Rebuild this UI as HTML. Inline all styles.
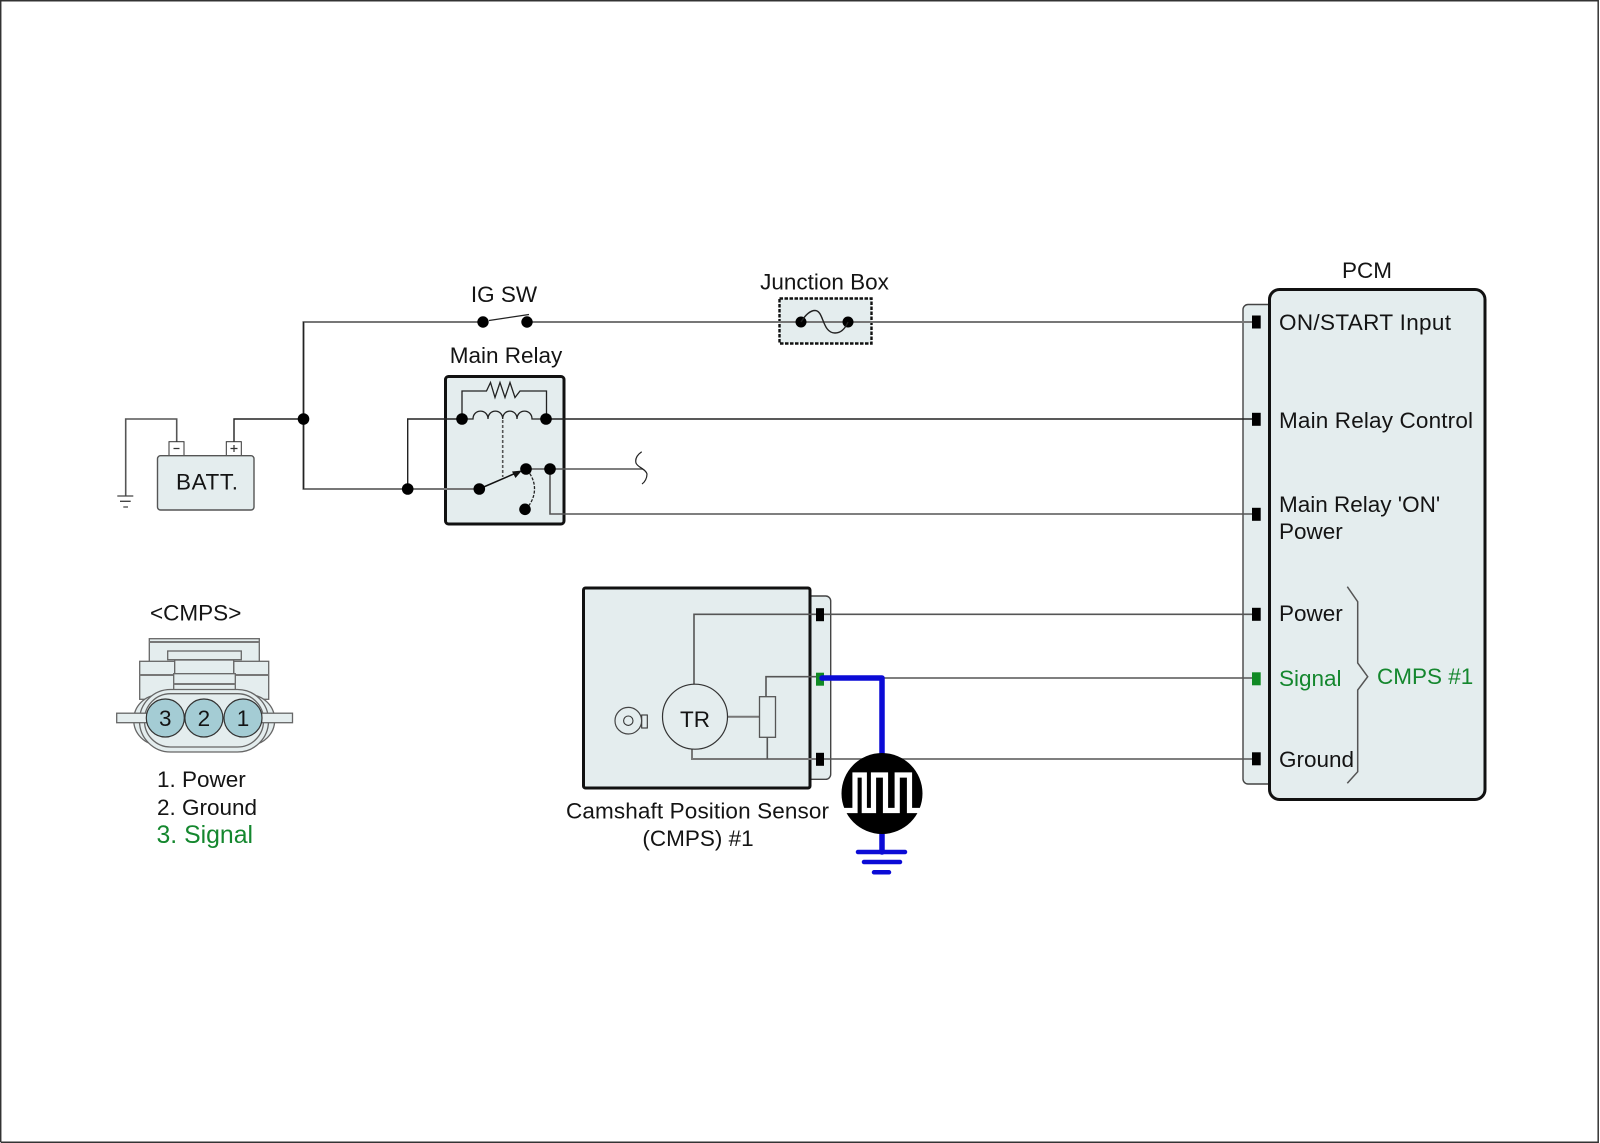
<!DOCTYPE html>
<html>
<head>
<meta charset="utf-8">
<style>
html,body{margin:0;padding:0;background:#fff;}
svg{display:block;}
text{font-family:"Liberation Sans",sans-serif;font-size:22.5px;fill:#141414;}
.g{fill:#14872e;}
.m{text-anchor:middle;}
.w1{fill:none;stroke:#777;stroke-width:2;}
.w2{fill:none;stroke:#222;stroke-width:1.4;}
.w3{fill:none;stroke:#555;stroke-width:1.6;}
.box{fill:#e4edee;stroke:#111;stroke-width:3;}
.tab{fill:#e4edee;stroke:#444;stroke-width:1.4;}
.c{fill:#e4edee;stroke:#666;stroke-width:1.3;}
.cl{fill:none;stroke:#777;stroke-width:2;}
.blue{fill:none;stroke:#0b0bd6;stroke-linecap:round;}
</style>
</head>
<body>
<svg width="1600" height="1143" viewBox="0 0 1600 1143" xmlns="http://www.w3.org/2000/svg">
<rect width="1600" height="1143" fill="#fff"/>
<!-- frame -->
<path d="M.7 1142V.7H1598.2V1142.2H.7" fill="none" stroke="#333" stroke-width="1.5"/>

<!-- PCM -->
<rect class="tab" x="1243" y="304.5" width="40" height="479.5" rx="5"/>
<rect class="box" x="1269.5" y="289.5" width="215.5" height="510" rx="10"/>
<text class="m" x="1367" y="278">PCM</text>
<text x="1279" y="330" textLength="172">ON/START Input</text>
<text x="1279" y="428" textLength="194">Main Relay Control</text>
<text x="1279" y="512">Main Relay 'ON'</text>
<text x="1279" y="539">Power</text>
<text x="1279" y="621">Power</text>
<text class="g" x="1279" y="686">Signal</text>
<text x="1279" y="767">Ground</text>
<text class="g" x="1377" y="684">CMPS #1</text>
<path d="M1347.3 586.7L1357.7 601.7V663L1367.7 676.7L1357.7 690V771.7L1347.3 783.3" fill="none" stroke="#555" stroke-width="1.5"/>

<!-- Relay box (under wires) -->
<rect class="box" x="445.5" y="376.5" width="118.5" height="147.5" rx="3"/>

<!-- wires -->
<path class="w1" d="M483 322H303.5V489H479"/>
<path class="w1" d="M527 322H1256"/>
<path class="w2" d="M303.5 322V489"/>
<path class="w2" d="M234 442V419H303.5"/>
<path class="w3" d="M176.7 442V419H125.7V496"/>
<path class="w2" d="M462 419H407.7V489"/>
<path class="w2" d="M546 419H1256"/>
<path class="w3" d="M526 469H643"/>
<path class="w3" d="M550 469V514H1256"/>
<path d="M641.7 451.7C637 455 635 459 636 463C637 467 646 469 647 474C647 478 645 482 642 484" fill="none" stroke="#222" stroke-width="1.2"/>

<!-- IG SW -->
<text class="m" x="504" y="302">IG SW</text>
<circle cx="483" cy="322" r="5.7"/>
<circle cx="527" cy="322" r="5.7"/>
<path d="M489 320.5L529 314.5" fill="none" stroke="#222" stroke-width="1.3"/>

<!-- Junction box -->
<text class="m" x="824.5" y="289.5">Junction Box</text>
<rect x="779.5" y="298.5" width="92" height="45" fill="#e4edee" stroke="#111" stroke-width="2.4" stroke-dasharray="3.5 1.5"/>
<path class="w1" d="M772 322H880"/>
<circle cx="801" cy="322" r="5.5"/>
<circle cx="848" cy="322" r="5.5"/>
<path d="M801 322C806 314 811 310.5 815 310.5C824 310.5 822 333 835 333C841 333 845 329 848 322" fill="none" stroke="#222" stroke-width="1.4"/>

<!-- Battery -->
<rect x="169" y="441.7" width="15" height="14" fill="#fff" stroke="#333" stroke-width="1"/>
<rect x="226.3" y="441.7" width="15" height="14" fill="#fff" stroke="#333" stroke-width="1"/>
<path d="M173.5 448.5H179.5M230.5 448.5H237.5M234 445V452" stroke="#333" stroke-width="1.2" fill="none"/>
<rect x="157.5" y="455.7" width="96.5" height="54.3" rx="3" fill="#e4edee" stroke="#555" stroke-width="1.4"/>
<text x="176" y="489.5" textLength="62">BATT.</text>
<path d="M117.3 496H133.3M120 501.3H130.7M123.3 507H128" stroke="#444" stroke-width="1.3" fill="none"/>

<!-- Relay -->
<text class="m" x="506" y="363">Main Relay</text>
<path d="M462 419V391H486.5L490.5 382.5L495 397.5L500 382.5L505 397.5L510 382.5L515 397.5L520 391H546.5V419" fill="none" stroke="#222" stroke-width="1.3"/>
<path d="M462 419H473C473 408.5 488 408.5 488 419C488 408.5 502.7 408.5 502.7 419C502.7 408.5 517 408.5 517 419C517 408.5 532 408.5 532 419H546" fill="none" stroke="#222" stroke-width="1.3"/>
<path d="M502.7 420V477" fill="none" stroke="#555" stroke-width="1.6" stroke-dasharray="3 2"/>
<path d="M479 489L516 473" stroke="#111" stroke-width="1.5" fill="none"/>
<path d="M522 470.5L512 471.5L515.5 478Z" fill="#111"/>
<path d="M527 470C536 480 538 495 527 508" fill="none" stroke="#222" stroke-width="1.3" stroke-dasharray="3 1.5"/>
<circle cx="462" cy="419" r="5.8"/>
<circle cx="546" cy="419" r="5.8"/>
<circle cx="479.3" cy="489" r="5.8"/>
<circle cx="526" cy="469" r="5.8"/>
<circle cx="550" cy="469" r="5.8"/>
<circle cx="525" cy="509.3" r="5.8"/>
<circle cx="303.5" cy="419" r="5.8"/>
<circle cx="407.7" cy="489" r="5.8"/>

<!-- CMPS connector -->
<text class="m" x="195.7" y="620.5">&lt;CMPS&gt;</text>
<rect class="c" x="149.3" y="638.7" width="110" height="24"/>
<path class="cl" d="M149.3 642H259.3"/>
<rect class="c" x="139.7" y="661.3" width="35" height="38"/>
<rect class="c" x="233.7" y="661.3" width="35" height="38"/>
<path class="cl" d="M139.7 675H174.7M233.7 675H268.7"/>
<rect class="c" x="174.7" y="660" width="59" height="14"/>
<rect class="c" x="173.7" y="673.7" width="61.6" height="18"/>
<path class="cl" d="M173.7 684H235.3"/>
<rect class="c" x="167.7" y="651" width="73.6" height="8.7"/>
<rect class="c" x="133.7" y="695" width="141" height="50" rx="25"/>
<rect x="139.5" y="689.5" width="129" height="62.5" rx="31" fill="#e4edee" stroke="#666" stroke-width="1.3"/>
<rect x="144.5" y="693.7" width="119" height="53.3" rx="26" fill="#e4edee" stroke="#666" stroke-width="1.3"/>
<rect class="c" x="116.7" y="713.2" width="31" height="9.5"/>
<rect class="c" x="261.5" y="713.2" width="31" height="9.5"/>
<circle cx="165.3" cy="718" r="19" fill="#a4ccd4" stroke="#333" stroke-width="1.2"/>
<circle cx="203.9" cy="718" r="19" fill="#a4ccd4" stroke="#333" stroke-width="1.2"/>
<circle cx="243" cy="718" r="19" fill="#a4ccd4" stroke="#333" stroke-width="1.2"/>
<text class="m" x="165.3" y="726">3</text>
<text class="m" x="203.9" y="726">2</text>
<text class="m" x="243" y="726">1</text>
<text x="157" y="787">1. Power</text>
<text x="157" y="815">2. Ground</text>
<text class="g" x="156.5" y="843" style="font-size:24.8px">3. Signal</text>

<!-- Sensor -->
<rect class="tab" x="800" y="596" width="30.7" height="183.3" rx="5"/>
<rect class="box" x="583.5" y="588" width="226.5" height="200" rx="2"/>
<path class="w3" d="M694 684V614.3H1256"/>
<path class="w3" d="M766 697V676.7H816"/>
<path class="w3" d="M880 678H1256"/>
<path class="w1" d="M692 749V759H816"/>
<path class="w3" d="M824 759H1256"/>
<path class="w3" d="M767.3 737V759"/>
<path class="w1" d="M727 716.7H759.5"/>
<rect x="759.5" y="696.7" width="16" height="40.6" fill="#e4edee" stroke="#555" stroke-width="1.3"/>
<circle cx="695" cy="716.7" r="32.5" fill="#e4edee" stroke="#333" stroke-width="1.2"/>
<text class="m" x="695" y="727">TR</text>
<rect x="641.7" y="715" width="5.6" height="13" fill="#e4edee" stroke="#333" stroke-width="1.1"/>
<circle cx="628.3" cy="720.7" r="13.3" fill="#e4edee" stroke="#444" stroke-width="1.2"/>
<circle cx="628.3" cy="720.7" r="4.7" fill="#e4edee" stroke="#333" stroke-width="1.1"/>
<text class="m" x="697.5" y="818.5" textLength="263">Camshaft Position Sensor</text>
<text class="m" x="698" y="846">(CMPS) #1</text>

<!-- Connector pins -->
<rect x="1252" y="315.5" width="8.7" height="13" fill="#000"/>
<rect x="1252" y="412.8" width="8.7" height="13" fill="#000"/>
<rect x="1252" y="507.8" width="8.7" height="13" fill="#000"/>
<rect x="1252" y="607.8" width="8.7" height="13" fill="#000"/>
<rect x="1252" y="672.3" width="8.7" height="13" fill="#108a24"/>
<rect x="1252" y="752.3" width="8.7" height="13" fill="#000"/>
<rect x="816" y="608.2" width="8" height="13" fill="#000"/>
<rect x="816" y="672.7" width="8" height="13" fill="#108a24"/>
<rect x="816" y="752.8" width="8" height="13" fill="#000"/>

<!-- Scope -->
<path class="blue" stroke-width="5.5" d="M822 678H882V852" stroke-linejoin="round"/>
<circle cx="882" cy="793.5" r="40.5" fill="#000"/>
<path d="M843 810.5H855V775H864.3V810.5H873.5V775H885.5V810.5H897.2V775H909.5V810.5H921" fill="none" stroke="#fff" stroke-width="5.2"/>
<path class="blue" stroke-width="4.5" d="M858 852H905M864 862H900M874 872.3H889"/>
</svg>
</body>
</html>
